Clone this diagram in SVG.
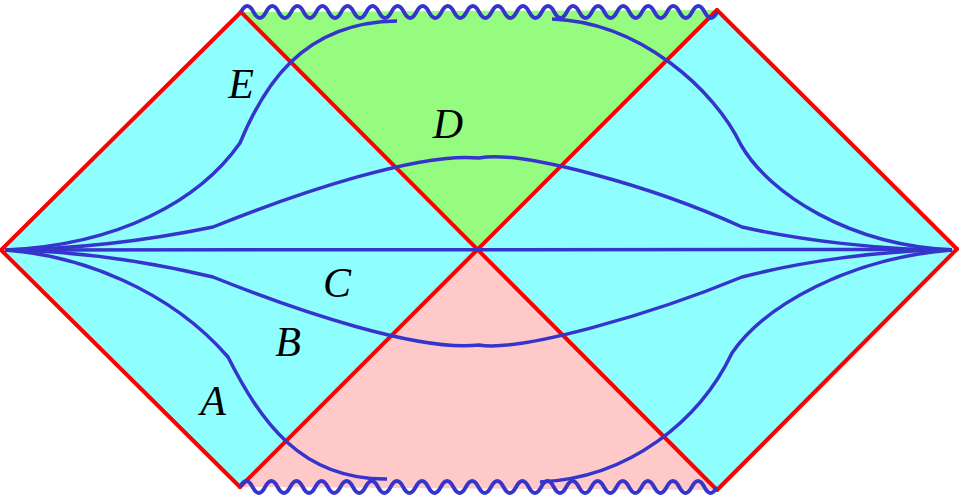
<svg xmlns="http://www.w3.org/2000/svg" width="959" height="498" viewBox="0 0 959 498">
<style>
.red{stroke:#ff0000;stroke-width:4;fill:none;stroke-linecap:round}
.blue{stroke:#3535cc;stroke-width:3.5;fill:none;stroke-linejoin:round}
.wave{stroke:#3535cc;stroke-width:3.8;fill:none;stroke-linejoin:round}
.lbl{font-family:"Liberation Serif","Times New Roman",serif;font-style:italic;font-size:42px;fill:#000;text-anchor:middle}
</style>
<rect width="959" height="498" fill="#ffffff"/>
<g id="regions">
<polygon id="left-wedge" points="1,250 241,12 479,249 240,487" fill="#8ffeff"/>
<polygon id="right-wedge" points="957,249 717,10 479,249 717,490" fill="#8ffeff"/>
<polygon id="top-region" points="241,12 717,10 479,249" fill="#95fc80"/>
<polygon id="bottom-region" points="240,487 717,490 479,249" fill="#ffc9c9"/>
</g>
<g id="horizons">
<line class="red" x1="1" y1="250" x2="241" y2="12"/>
<line class="red" x1="1" y1="250" x2="240" y2="487"/>
<line class="red" x1="957" y1="249" x2="717" y2="10"/>
<line class="red" x1="957" y1="249" x2="717" y2="490"/>
<line class="red" x1="241" y1="12" x2="717" y2="490"/>
<line class="red" x1="717" y1="10" x2="240" y2="487"/>
</g>
<g id="singularities">
<path class="wave" d="M241 12 q6.26 -12 12.53 0 t12.53 0 t12.53 0 t12.53 0 t12.53 0 t12.53 0 t12.53 0 t12.53 0 t12.53 0 t12.53 0 t12.53 0 t12.53 0 t12.53 0 t12.53 0 t12.53 0 t12.53 0 t12.53 0 t12.53 0 t12.53 0 t12.53 0 t12.53 0 t12.53 0 t12.53 0 t12.53 0 t12.53 0 t12.53 0 t12.53 0 t12.53 0 t12.53 0 t12.53 0 t12.53 0 t12.53 0 t12.53 0 t12.53 0 t12.53 0 t12.53 0 t12.53 0 t12.53 0"/>
<path class="wave" d="M240 487 q6.28 -12 12.55 0 t12.55 0 t12.55 0 t12.55 0 t12.55 0 t12.55 0 t12.55 0 t12.55 0 t12.55 0 t12.55 0 t12.55 0 t12.55 0 t12.55 0 t12.55 0 t12.55 0 t12.55 0 t12.55 0 t12.55 0 t12.55 0 t12.55 0 t12.55 0 t12.55 0 t12.55 0 t12.55 0 t12.55 0 t12.55 0 t12.55 0 t12.55 0 t12.55 0 t12.55 0 t12.55 0 t12.55 0 t12.55 0 t12.55 0 t12.55 0 t12.55 0 t12.55 0 t12.55 0"/>
</g>
<g id="slices">
<path id="slice-C" class="blue" d="M8 250 L950 249.5"/>
<path id="slice-D" class="blue" d="M5 250 C80 249 150 240 213 227 C300 192 420 152 479 158 C520 150 650 185 742 227 C800 240 880 250 952 250"/>
<path id="slice-B" class="blue" d="M5 250 C80 251 150 262 213 277 C300 312 420 352 479 345 C520 352 650 315 742 277 C800 262 880 250 952 250"/>
<path id="slice-E-left" class="blue" d="M5 250 C120 245 200 200 240 143 C262 90 300 22 397 21"/>
<path id="slice-E-right" class="blue" d="M552 19 C640 22 715 90 741 145 C770 195 850 245 952 250"/>
<path id="slice-A-left" class="blue" d="M5 250 C80 255 170 290 228 357 C260 420 300 480 387 479"/>
<path id="slice-A-right" class="blue" d="M540 482 C630 478 700 420 732 353 C765 305 850 258 952 250"/>
</g>
<g id="labels">
<text class="lbl" x="241" y="98">E</text>
<text class="lbl" x="448" y="138">D</text>
<text class="lbl" x="337" y="297">C</text>
<text class="lbl" x="288" y="356">B</text>
<text class="lbl" x="213" y="415">A</text>
</g>
</svg>
